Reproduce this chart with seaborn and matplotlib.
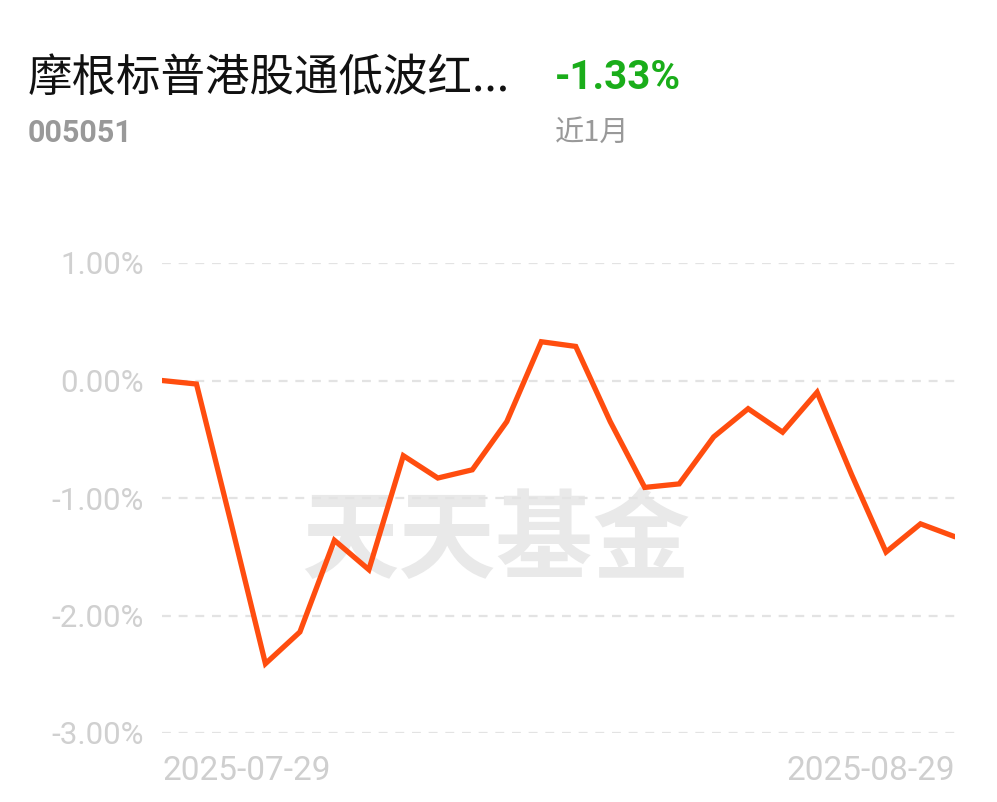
import matplotlib
matplotlib.use("Agg")
import matplotlib.pyplot as plt
import seaborn as sns
import pandas as pd

# ---- data ----
fund_name = "摩根标普港股通低波红..."
fund_code = "005051"
period_return = "-1.33%"
period_label = "近1月"
start_label = "2025-07-29"
end_label = "2025-08-29"
y_ticks = [1.0, 0.0, -1.0, -2.0, -3.0]
y_tick_labels = ["1.00%", "0.00%", "-1.00%", "-2.00%", "-3.00%"]
returns = [0.00, -0.03, -1.21, -2.41, -2.14, -1.36, -1.61, -0.64, -0.83, -0.76,
           -0.35, 0.33, 0.29, -0.35, -0.91, -0.88, -0.48, -0.24, -0.44, -0.10,
           -0.80, -1.46, -1.22, -1.33]

df = pd.DataFrame({"day": list(range(len(returns))), "ret": returns})

sns.set_theme(style="white")
plt.rcParams['font.family'] = ['Noto Sans CJK SC', 'DejaVu Sans']

LATIN = ['Roboto', 'DejaVu Sans']

W, H = 997, 802
fig = plt.figure(figsize=(W / 100, H / 100), dpi=100)
fig.patch.set_facecolor("white")

left, right = 162 / W, 955 / W
top_px, bot_px = 263, 733
ax = fig.add_axes([left, 1 - bot_px / H, right - left, (bot_px - top_px) / H])
ax.set_facecolor("white")

# watermark
ax.text(0.421, 0.405, "天天基金", transform=ax.transAxes, ha="center", va="center",
        fontsize=70, fontweight="bold", color="#e9e9e9", zorder=0,
        family=['Noto Sans CJK SC'])

# grid lines
for t in y_ticks:
    ax.axhline(t, color="#e3e3e3", lw=1.6, ls=(0, (4, 3.5)), zorder=1)

sns.lineplot(data=df, x="day", y="ret", ax=ax, color="#ff4d0f", lw=3.8,
             zorder=3, solid_joinstyle="miter")

ax.set_xlim(0, len(returns) - 1)
ax.set_ylim(-3, 1)
ax.set_xlabel("")
ax.set_ylabel("")
ax.set_xticks([])
ax.set_yticks(y_ticks)
ax.set_yticklabels(y_tick_labels, family=LATIN, fontsize=22.5, color="#d0d0d0")
ax.tick_params(axis="y", length=0, pad=13)
for s in ax.spines.values():
    s.set_visible(False)

# x labels
ax.text(0, -0.08, start_label, transform=ax.transAxes, ha="left", va="center",
        fontsize=24, color="#cfcfcf", family=LATIN)
ax.text(1, -0.08, end_label, transform=ax.transAxes, ha="right", va="center",
        fontsize=24, color="#cfcfcf", family=LATIN)

# header texts
fig.text(28 / W, 1 - 78 / H, fund_name, ha="left", va="center", fontsize=32,
         color="#111111", family=['Noto Sans CJK SC', 'DejaVu Sans'])
fig.text(555 / W, 1 - 78 / H, period_return, ha="left", va="center", fontsize=29,
         fontweight="bold", color="#1aad1a", family=LATIN)
fig.text(28 / W, 1 - 133 / H, fund_code, ha="left", va="center", fontsize=22,
         fontweight="bold", color="#999999", family=LATIN)
fig.text(555 / W, 1 - 133 / H, period_label, ha="left", va="center", fontsize=21,
         color="#999999", family=['Noto Sans CJK SC', 'DejaVu Sans'])

fig.savefig("out.png", dpi=100, facecolor="white")
